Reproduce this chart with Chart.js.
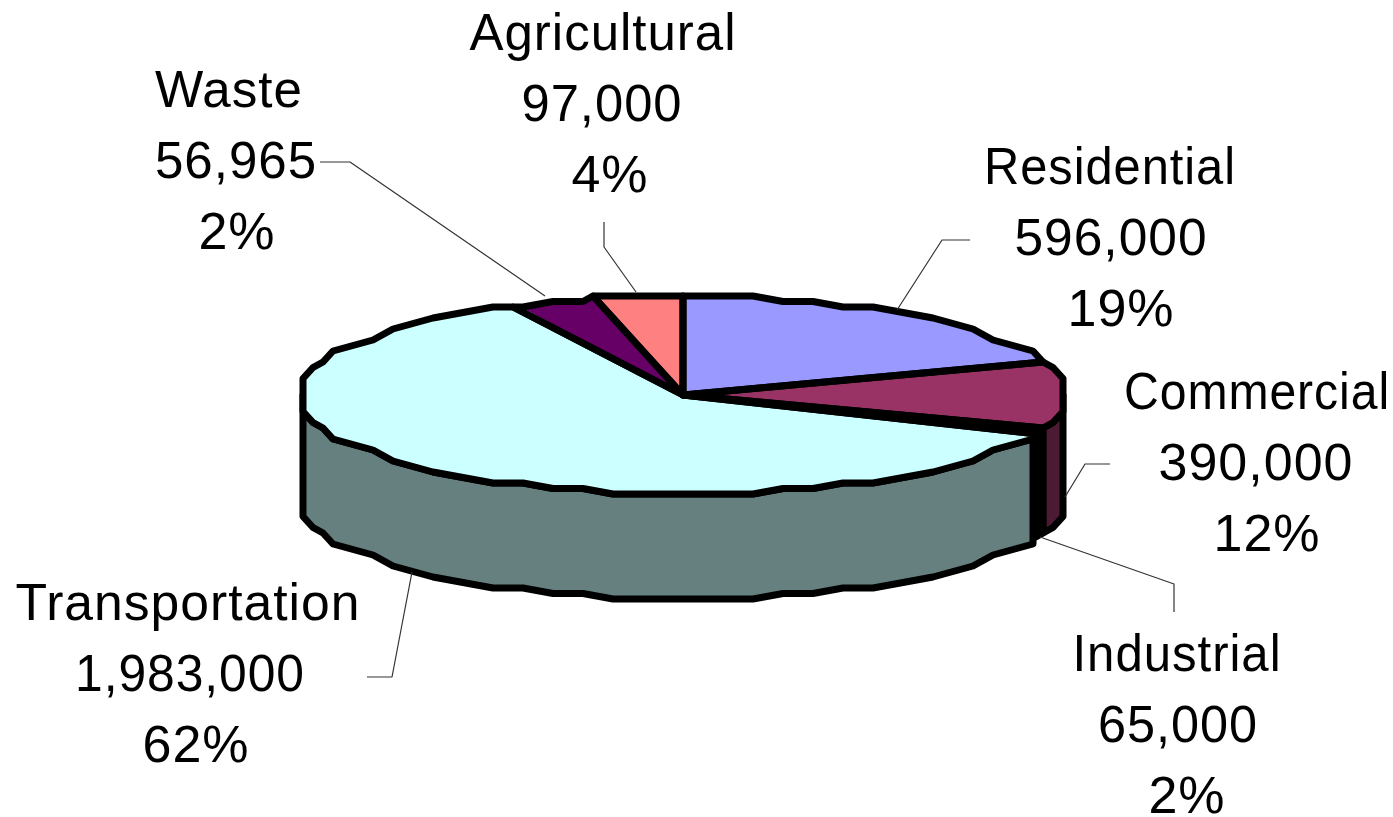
<!DOCTYPE html>
<html>
<head>
<meta charset="utf-8">
<style>
  html, body { margin: 0; padding: 0; background: #fff; }
  canvas { display: block; }
</style>
<script src="https://cdn.jsdelivr.net/npm/chart.js@4/dist/chart.umd.min.js"></script>
</head>
<body>
<canvas id="myChart" width="1393" height="817"></canvas>
<script>
var categories = ['Residential', 'Commercial', 'Industrial', 'Transportation', 'Waste', 'Agricultural'];
var values = [596000, 390000, 65000, 1983000, 56965, 97000];
var percentLabels = ['19%', '12%', '2%', '62%', '2%', '4%'];
// the wedges in the picture don't follow the printed numbers exactly
// (agricultural is drawn bigger, industrial is almost nothing), so these are read off the wedges
var wedgeShares = [19.8, 11.0, 0.7, 61.4, 3.3, 3.8];
var topColors = ['#9999ff', '#993366', '#ffffcc', '#ccffff', '#660066', '#ff8080'];
var sideColors = ['#4d4d80', '#4d1a33', '#000000', '#668080', '#330033', '#804040'];

// label layout in page pixels: centre x of each line, y of first line, max text widths
var nameX = [1110, 1257, 1177, 188, 229, 603];
var valueX = [1111, 1256, 1178, 190, 236, 602];
var percentX = [1121, 1267, 1187, 196, 237, 610];
var labelY = [170, 395, 657, 606, 93, 36];
var nameWidth = [252, 266, 209, 345, 148, 267];
var valueWidth = [193, 198, 160, 230, 162, 161];
var lineGap = 71;
var leaders = [
    [[970, 240], [942, 240], [897, 310]],
    [[1110, 464], [1085, 464], [1065, 497]],
    [[1174, 612], [1174, 584], [1040, 537]],
    [[367, 677], [392, 677], [412, 572]],
    [[320, 162], [350, 162], [545, 296]],
    [[604, 222], [604, 247], [636, 292]]
];

var squash = 0.26;   // ellipse height / width
var depth = 105;     // height of the side wall
var outline = 7;
var gridX = 10;      // the reference outline is stepped, snap to a coarse grid
var gridY = 5.5;
var rimStep = Math.PI / 36;

// points along the rim of an arc element, snapped to the grid
function rimPoints(arc, a0, a1, dy) {
    var angles = [a0];
    var k = Math.floor(a0 / rimStep) + 1;
    while (k * rimStep < a1) {
        angles.push(k * rimStep);
        k++;
    }
    angles.push(a1);
    var pts = [];
    angles.forEach(function (a) {
        var x = arc.x + arc.outerRadius * Math.cos(a);
        var y = arc.y + arc.outerRadius * squash * Math.sin(a);
        x = arc.x + Math.round((x - arc.x) / gridX) * gridX;
        y = arc.y + Math.round((y - arc.y) / gridY) * gridY + dy;
        pts.push([x, y]);
    });
    return pts;
}

function tracePoints(ctx, pts) {
    pts.forEach(function (p) { ctx.lineTo(p[0], p[1]); });
}

var pie3d = {
    id: 'pie3d',
    beforeDatasetsDraw: function (chart) {
        var ctx = chart.ctx;
        var arcs = chart.getDatasetMeta(0).data;
        ctx.save();
        ctx.lineWidth = outline;
        ctx.lineJoin = 'round';
        ctx.strokeStyle = '#000';
        // side walls, only the part on the front half of the ellipse
        arcs.forEach(function (arc, i) {
            var a0 = Math.max(arc.startAngle, 0);
            var a1 = Math.min(arc.endAngle, Math.PI);
            if (a1 <= a0) return;
            ctx.beginPath();
            tracePoints(ctx, rimPoints(arc, a0, a1, 0));
            tracePoints(ctx, rimPoints(arc, a0, a1, depth).reverse());
            ctx.closePath();
            ctx.fillStyle = sideColors[i];
            ctx.fill();
            ctx.stroke();
        });
        ctx.restore();

        // squash the library's arcs into the tilted top face, cut to the stepped rim
        var first = arcs[0];
        ctx.save();
        ctx.beginPath();
        arcs.forEach(function (arc) {
            tracePoints(ctx, rimPoints(arc, arc.startAngle, arc.endAngle, 0));
        });
        ctx.closePath();
        ctx.clip();
        ctx.translate(0, first.y);
        ctx.scale(1, squash);
        ctx.translate(0, -first.y);
    },
    afterDatasetsDraw: function (chart) {
        var ctx = chart.ctx;
        var arcs = chart.getDatasetMeta(0).data;
        ctx.restore();

        ctx.save();
        ctx.strokeStyle = '#000';
        ctx.lineWidth = outline;
        ctx.lineJoin = 'round';
        arcs.forEach(function (arc) {
            ctx.beginPath();
            ctx.moveTo(arc.x, arc.y);
            tracePoints(ctx, rimPoints(arc, arc.startAngle, arc.endAngle, 0));
            ctx.closePath();
            ctx.stroke();
        });

        // leader lines
        ctx.strokeStyle = '#333';
        ctx.lineWidth = 1.2;
        leaders.forEach(function (pts) {
            ctx.beginPath();
            pts.forEach(function (p, j) {
                if (j === 0) ctx.moveTo(p[0], p[1]);
                else ctx.lineTo(p[0], p[1]);
            });
            ctx.stroke();
        });

        // labels
        ctx.fillStyle = '#000';
        ctx.font = '52px "Liberation Sans", Arial, sans-serif';
        ctx.letterSpacing = '1px';
        ctx.textAlign = 'center';
        ctx.textBaseline = 'middle';
        categories.forEach(function (name, i) {
            ctx.fillText(name, nameX[i], labelY[i], nameWidth[i]);
            ctx.fillText(values[i].toLocaleString('en-US'), valueX[i], labelY[i] + lineGap, valueWidth[i]);
            ctx.fillText(percentLabels[i], percentX[i], labelY[i] + lineGap * 2);
        });
        ctx.restore();
    }
};

new Chart(document.getElementById('myChart').getContext('2d'), {
    type: 'pie',
    data: {
        labels: categories,
        datasets: [{
            data: wedgeShares,
            backgroundColor: topColors,
            borderWidth: 0,
            clip: false
        }]
    },
    options: {
        responsive: false,
        animation: false,
        radius: 383,
        layout: { padding: { left: 0, right: 27, top: 0, bottom: 27 } },
        plugins: {
            legend: { display: false },
            tooltip: { enabled: false }
        }
    },
    plugins: [pie3d]
});
</script>
</body>
</html>
